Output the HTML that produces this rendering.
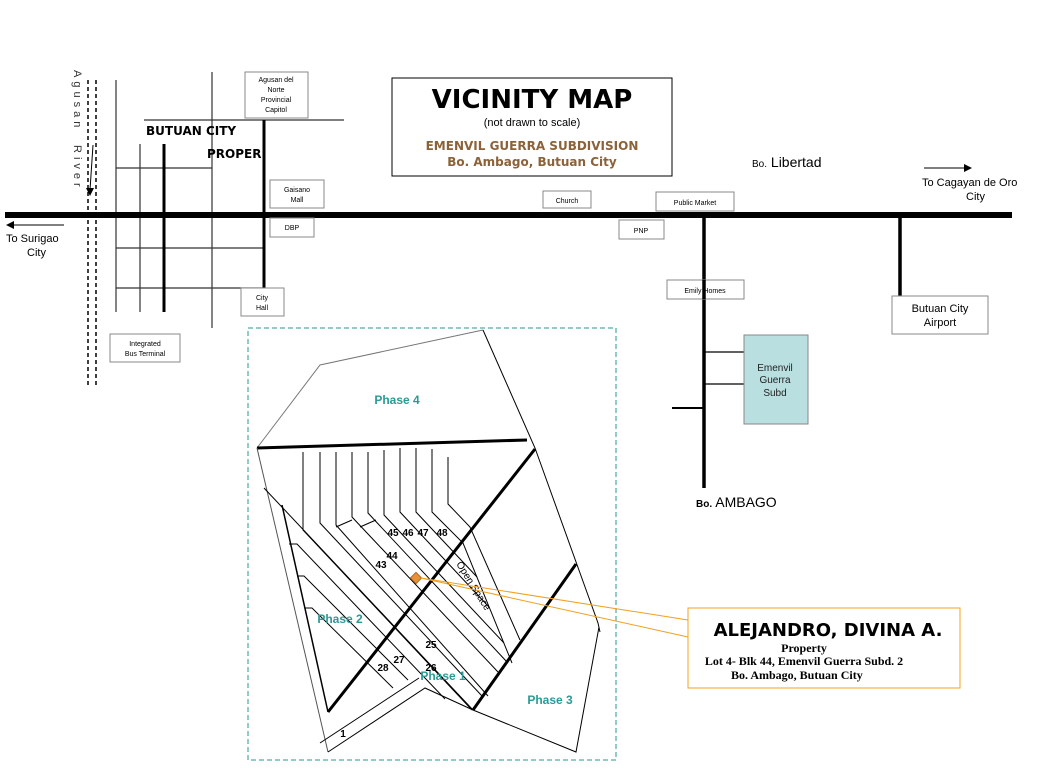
<!DOCTYPE html>
<html><head><meta charset="utf-8"><style>
html,body{margin:0;padding:0;background:#fff;}
svg{display:block;font-family:"Liberation Sans",sans-serif;}
</style></head><body>
<svg width="1056" height="768" viewBox="0 0 1056 768" xmlns="http://www.w3.org/2000/svg">
<rect width="1056" height="768" fill="#fff"/>
<!-- river -->
<line x1="88" y1="80" x2="88" y2="385" stroke="#000" stroke-width="1.5" stroke-dasharray="4,3"/>
<line x1="96" y1="80" x2="96" y2="385" stroke="#000" stroke-width="1.5" stroke-dasharray="4,3"/>
<line x1="93" y1="145" x2="90" y2="190" stroke="#000" stroke-width="1"/>
<polygon points="86,188 94,188 90,196" fill="#000"/>
<text transform="translate(74,70) rotate(90)" font-size="11" letter-spacing="4" fill="#333">Agusan</text>
<text transform="translate(74,145) rotate(90)" font-size="11" letter-spacing="4" fill="#333">River</text>
<!-- grid -->
<g stroke="#333" stroke-width="1.2">
<line x1="116" y1="80" x2="116" y2="312"/>
<line x1="140" y1="144" x2="140" y2="312"/>
<line x1="212" y1="72" x2="212" y2="328"/>
<line x1="144" y1="120" x2="344" y2="120"/>
<line x1="116" y1="168" x2="212" y2="168"/>
<line x1="116" y1="248" x2="264" y2="248"/>
<line x1="116" y1="288" x2="264" y2="288"/>
</g>
<line x1="164" y1="144" x2="164" y2="312" stroke="#000" stroke-width="3"/>
<line x1="264" y1="120" x2="264" y2="288" stroke="#000" stroke-width="3"/>
<text x="146" y="135" font-size="12" font-weight="bold" font-family="DejaVu Sans,sans-serif">BUTUAN CITY</text>
<text x="207" y="158" font-size="12" font-weight="bold" font-family="DejaVu Sans,sans-serif">PROPER</text>
<!-- main road -->
<line x1="5" y1="215" x2="1012" y2="215" stroke="#000" stroke-width="6"/>
<line x1="14" y1="225" x2="64" y2="225" stroke="#000" stroke-width="1"/>
<polygon points="6,225 14,221 14,229" fill="#000"/>
<text x="6" y="242" font-size="11">To Surigao</text>
<text x="27" y="256" font-size="11">City</text>
<line x1="924" y1="168" x2="964" y2="168" stroke="#000" stroke-width="1"/>
<polygon points="972,168 964,164 964,172" fill="#000"/>
<text x="922" y="186" font-size="11">To  Cagayan de Oro</text>
<text x="966" y="200" font-size="11">City</text>
<!-- boxes -->
<g fill="#fff" stroke="#888" stroke-width="1">
<rect x="245" y="72" width="63" height="46"/>
<rect x="270" y="180" width="54" height="28"/>
<rect x="270" y="218" width="44" height="19"/>
<rect x="241" y="288" width="43" height="28"/>
<rect x="110" y="334" width="70" height="28"/>
<rect x="543" y="191" width="48" height="17"/>
<rect x="656" y="192" width="78" height="19"/>
<rect x="619" y="220" width="45" height="19"/>
</g>
<g font-size="7" text-anchor="middle" fill="#000">
<text x="276" y="82">Agusan del</text><text x="276" y="92">Norte</text><text x="276" y="102">Provincial</text><text x="276" y="112">Capitol</text>
<text x="297" y="192">Gaisano</text><text x="297" y="202">Mall</text>
<text x="292" y="230">DBP</text>
<text x="262" y="300">City</text><text x="262" y="310">Hall</text>
<text x="145" y="346">Integrated</text><text x="145" y="356">Bus Terminal</text>
<text x="567" y="203">Church</text>
<text x="695" y="205">Public Market</text>
<text x="641" y="233">PNP</text>
</g>
<!-- title -->
<rect x="392" y="78" width="280" height="98" fill="#fff" stroke="#000" stroke-width="1"/>
<text x="532" y="108" font-size="26" font-weight="bold" text-anchor="middle" font-family="DejaVu Sans,sans-serif">VICINITY MAP</text>
<text x="532" y="126" font-size="11" text-anchor="middle">(not drawn to scale)</text>
<text x="532" y="150" font-size="12" font-weight="bold" text-anchor="middle" fill="#8b6239" font-family="DejaVu Sans,sans-serif">EMENVIL GUERRA SUBDIVISION</text>
<text x="532" y="166" font-size="12" font-weight="bold" text-anchor="middle" fill="#8b6239" font-family="DejaVu Sans,sans-serif">Bo. Ambago, Butuan City</text>
<text x="752" y="167" font-size="14"><tspan font-size="10">Bo.</tspan> Libertad</text>
<!-- right roads -->
<line x1="704" y1="215" x2="704" y2="488" stroke="#000" stroke-width="3.5"/>
<line x1="900" y1="215" x2="900" y2="296" stroke="#000" stroke-width="3.5"/>
<g stroke="#000" stroke-width="1.2">
<line x1="704" y1="352" x2="744" y2="352"/>
<line x1="704" y1="384" x2="744" y2="384"/>
</g>
<line x1="672" y1="408" x2="704" y2="408" stroke="#000" stroke-width="2"/>
<rect x="667" y="280" width="77" height="19" fill="#fff" stroke="#888"/>
<line x1="704" y1="280" x2="704" y2="299" stroke="#000" stroke-width="3.5"/>
<text x="705" y="293" font-size="7" text-anchor="middle">Emily Homes</text>
<rect x="892" y="296" width="96" height="38" fill="#fff" stroke="#888"/>
<text x="940" y="312" font-size="11" text-anchor="middle">Butuan City</text>
<text x="940" y="326" font-size="11" text-anchor="middle">Airport</text>
<rect x="744" y="335" width="64" height="89" fill="#b9dfe1" stroke="#888"/>
<text x="775" y="371" font-size="10" text-anchor="middle" fill="#222">Emenvil</text>
<text x="775" y="383" font-size="10" text-anchor="middle" fill="#222">Guerra</text>
<text x="775" y="396" font-size="10" text-anchor="middle" fill="#222">Subd</text>
<text x="696" y="507" font-size="14"><tspan font-size="10" font-weight="bold">Bo.</tspan> AMBAGO</text>
<!-- dashed box -->
<rect x="248" y="328" width="368" height="432" fill="none" stroke="#2a9a95" stroke-width="1" stroke-dasharray="5,3"/>
<!-- phase 4 outline -->
<polyline points="257,448 320,365 483,330" fill="none" stroke="#777" stroke-width="1"/>
<polyline points="483,330 535,448 598,623 600,632" fill="none" stroke="#000" stroke-width="1"/>
<text x="397" y="404" font-size="12" font-weight="bold" fill="#2a9a95" text-anchor="middle">Phase 4</text>
<!-- detail -->
<g fill="none" stroke="#000" stroke-width="1">
<line x1="257" y1="448" x2="527" y2="440" stroke-width="3"/>
<line x1="257" y1="448" x2="328" y2="752" stroke="#555"/>
<polyline points="328,752 425,688 473,710 576,752 599,627"/>
<polyline points="320,743 419,678"/>
<line x1="282" y1="505" x2="328" y2="712" stroke-width="1.5"/>
<line x1="328" y1="712" x2="535" y2="449" stroke-width="3"/>
<line x1="473" y1="710" x2="576" y2="564" stroke-width="3"/>
<line x1="264" y1="488" x2="473" y2="710"/>
<polyline points="303,452 303,530 472,710"/>
<polyline points="320,452 320,523 482,696"/>
<polyline points="336,452 336,525 488,696"/>
<polyline points="352,452 352,517 498,672"/>
<polyline points="368,452 368,513 507,662"/>
<polyline points="384,450 384,515 504,643"/>
<polyline points="400,448 400,512 489,607"/>
<polyline points="416,448 416,512 477,577"/>
<polyline points="432,449 432,512 463,543 512,663"/>
<polyline points="448,457 448,504 470,527 520,640"/>
<line x1="336" y1="527" x2="352" y2="520"/>
<line x1="360" y1="527" x2="376" y2="520"/>
<polyline points="289,544 297,544 445,699"/>
<polyline points="297,576 304,576 408,680"/>
<polyline points="305,608 312,608 393,688"/>
</g>
<rect x="412" y="574" width="8" height="8" transform="rotate(45 416 578)" fill="#e8913a" stroke="#a35a10" stroke-width="0.8"/>
<g font-size="10" font-weight="bold" text-anchor="middle">
<text x="393" y="536">45</text><text x="408" y="536">46</text><text x="423" y="536">47</text><text x="442" y="536">48</text>
<text x="392" y="559">44</text><text x="381" y="568">43</text>
<text x="431" y="648">25</text><text x="399" y="663">27</text><text x="383" y="671">28</text><text x="431" y="671">26</text>
<text x="343" y="737">1</text>
</g>
<text transform="translate(456,564) rotate(58)" font-size="10">Open Space</text>
<text x="340" y="623" font-size="12" font-weight="bold" fill="#2a9a95" text-anchor="middle">Phase 2</text>
<text x="443" y="680" font-size="12" font-weight="bold" fill="#2a9a95" text-anchor="middle">Phase 1</text>
<text x="550" y="704" font-size="12" font-weight="bold" fill="#2a9a95" text-anchor="middle">Phase 3</text>
<!-- callout -->
<line x1="421" y1="578" x2="688" y2="620" stroke="#f0a020" stroke-width="1"/>
<line x1="421" y1="578" x2="688" y2="637" stroke="#f0a020" stroke-width="1"/>
<rect x="688" y="608" width="272" height="80" fill="#fff" stroke="#f0a020" stroke-width="1"/>
<text x="828" y="636" font-size="18" font-weight="bold" text-anchor="middle" font-family="DejaVu Sans,sans-serif">ALEJANDRO, DIVINA A.</text>
<text x="804" y="652" font-size="12" font-weight="bold" text-anchor="middle" font-family="Liberation Serif,serif">Property</text>
<text x="804" y="665" font-size="12" font-weight="bold" text-anchor="middle" font-family="Liberation Serif,serif">Lot 4- Blk 44, Emenvil Guerra Subd. 2</text>
<text x="731" y="679" font-size="12" font-weight="bold" font-family="Liberation Serif,serif">Bo. Ambago, Butuan City</text>
</svg>
</body></html>
